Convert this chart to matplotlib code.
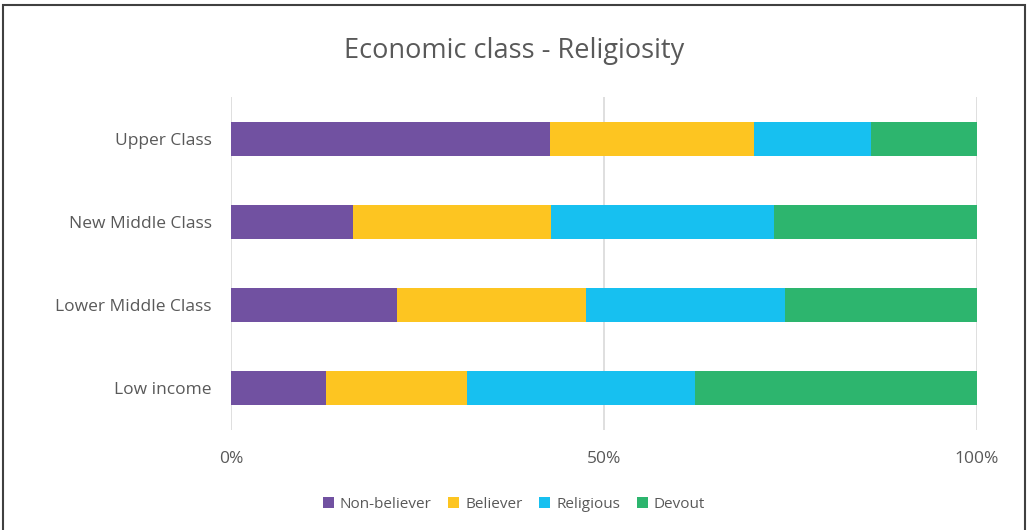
import matplotlib.pyplot as plt
from matplotlib.patches import Rectangle

categories = ["Upper Class", "New Middle Class", "Lower Middle Class", "Low income"]
series = ["Non-believer", "Believer", "Religious", "Devout"]
non_believer = [42.8, 16.4, 22.3, 12.7]
believer = [27.3, 26.5, 25.3, 18.9]
religious = [15.7, 29.9, 26.7, 30.6]
devout = [14.2, 27.2, 25.7, 37.8]
colors = ["#7151A1", "#FDC521", "#17C0F0", "#2DB56E"]

plt.rcParams["font.family"] = ["Open Sans", "DejaVu Sans"]
text_color = "#595959"

fig = plt.figure(figsize=(10.28, 5.30), dpi=100)
ax = fig.add_axes([0.2247, 0.1887, 0.7257, 0.628])

ypos = list(range(len(categories)))
left = [0.0] * len(categories)
for name, vals, c in zip(series, [non_believer, believer, religious, devout], colors):
    ax.barh(ypos, vals, left=left, height=0.41, color=c, label=name, zorder=3)
    left = [a + b for a, b in zip(left, vals)]

ax.set_xlim(0, 100)
ax.set_ylim(3.5, -0.5)
ax.set_yticks(ypos)
ax.set_yticklabels(categories, fontsize=12.5, color=text_color)
ax.set_xticks([0, 50, 100])
ax.set_xticklabels(["0%", "50%", "100%"], fontsize=12.5, color=text_color)
ax.tick_params(length=0)
ax.tick_params(axis="y", pad=14)
ax.tick_params(axis="x", pad=15)
ax.grid(axis="x", color="#D9D9D9", linewidth=1.2, zorder=0)
for s in ax.spines.values():
    s.set_visible(False)

fig.suptitle("Economic class - Religiosity", fontsize=19.5, color=text_color, y=0.93)

leg = fig.legend(loc="center", bbox_to_anchor=(0.5, 0.048), ncol=4, frameon=False,
                 fontsize=11, handlelength=0.7, handleheight=0.7, handletextpad=0.4,
                 columnspacing=1.1)
for t in leg.get_texts():
    t.set_color(text_color)

# outer frame
fig.patches.append(Rectangle((0.003, -0.02), 0.994, 1.01, transform=fig.transFigure,
                             fill=False, edgecolor="#404040", linewidth=1.5))

fig.savefig("out.png", dpi=100)
